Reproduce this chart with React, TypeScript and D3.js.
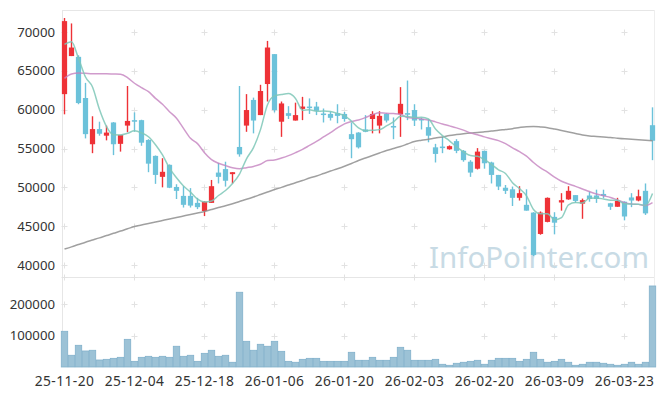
import React, { useEffect } from "react";
import * as d3 from "d3";

const W = 665;
const H = 396;

const opens = [62000, 66900, 66800, 61500, 55550, 57500, 56650, 58350, 55600, 57950, 58650, 58650, 56100, 54050, 51350, 52900, 50050, 48900, 48900, 48000, 46950, 48000, 51900, 52350, 51700, 55200, 57950, 61250, 59300, 63300, 67150, 58450, 59550, 58600, 60100, 60400, 60400, 59500, 59450, 59550, 59450, 56850, 57050, 57450, 58800, 57950, 59450, 57900, 59400, 59550, 59950, 58800, 57750, 55150, 55250, 54900, 55950, 54700, 53300, 52400, 54700, 53200, 51600, 49950, 49750, 48650, 47750, 46750, 44000, 45550, 46200, 48050, 48450, 49000, 47900, 48950, 48950, 49150, 47950, 47500, 48150, 48700, 48300, 49550, 58000];
const highs = [71800, 71100, 67000, 63450, 59150, 58450, 57950, 58400, 56750, 63050, 59650, 58700, 56200, 54100, 53750, 52950, 50400, 50150, 49900, 48650, 48200, 50950, 53150, 53300, 51950, 63050, 62000, 61550, 63200, 68850, 67150, 61050, 60450, 60900, 61650, 61450, 61000, 60150, 59750, 60700, 59700, 58350, 57100, 59300, 59800, 59800, 59550, 59000, 62900, 63750, 60700, 58950, 58800, 55600, 56500, 55400, 56200, 54800, 53500, 55050, 54700, 53300, 51600, 50300, 50100, 50150, 49750, 46800, 46900, 48700, 46800, 49250, 50150, 49000, 48550, 49450, 49700, 49700, 48000, 48650, 48200, 49250, 49700, 50500, 60300];
const lows = [59400, 66900, 60700, 56300, 54400, 56650, 56050, 54150, 54600, 57100, 57150, 55350, 51950, 50450, 50000, 49900, 48500, 47400, 47400, 47200, 46300, 48000, 50500, 50100, 50500, 53950, 57150, 56950, 59300, 61050, 59650, 56500, 58800, 58600, 58650, 59450, 59300, 58350, 58600, 58250, 58450, 53750, 55000, 57100, 56950, 56950, 58350, 56200, 56500, 58650, 57900, 57450, 55800, 53200, 54400, 54850, 54400, 53300, 51350, 52300, 52400, 50500, 49650, 49150, 47600, 48300, 47000, 41150, 43900, 45500, 43950, 47000, 48400, 48000, 45950, 48150, 48000, 48600, 47100, 47500, 45750, 47450, 48200, 46450, 53500];
const closes = [71400, 68000, 60850, 56850, 57500, 56900, 57050, 55550, 56750, 58550, 58450, 55750, 53050, 51600, 52000, 49950, 49550, 47750, 47650, 47450, 48150, 50150, 51350, 50850, 51950, 54250, 59950, 58600, 62400, 68000, 59950, 60800, 59200, 59300, 60400, 60200, 59850, 59400, 58950, 59200, 58800, 56200, 55150, 57150, 59450, 59200, 58600, 57700, 60750, 59350, 58600, 58650, 56650, 54300, 55050, 55300, 54700, 53500, 51900, 54600, 53100, 51600, 50100, 49550, 48650, 49250, 47000, 41300, 46750, 48650, 45450, 48350, 49550, 48250, 48350, 48500, 48500, 48900, 47500, 48250, 46250, 48300, 48850, 46650, 56000];
const volumes = [113700, 37300, 69100, 51000, 53200, 22300, 24400, 27600, 30800, 88100, 18000, 30800, 34000, 30800, 34000, 30800, 66000, 34000, 37300, 18000, 43500, 53200, 34000, 37300, 15000, 238000, 81800, 53200, 72300, 66000, 81800, 49900, 18000, 15000, 24400, 27600, 27600, 18000, 18000, 18000, 18000, 46800, 21300, 21300, 30800, 21300, 21300, 30800, 62700, 53200, 21300, 21300, 21300, 24400, 8600, 5400, 11800, 15000, 18000, 21300, 8600, 21300, 27600, 27600, 27600, 18000, 24400, 46800, 24400, 15000, 18000, 24400, 15000, 5400, 8600, 15000, 15000, 11800, 8600, 5400, 8600, 15000, 8600, 15000, 258000];

// moving-average values before enough closes are visible
const ma5Head = [68400, 68750, 66600, 64200];
const ma20Head = [64040, 64590, 64720, 64680, 64630, 64630, 64630, 64590, 64550, 64120, 63400, 62830, 62310, 61460, 60690, 59740, 58890, 57600, 56310];
const ma60 = [42060, 42340, 42640, 42940, 43220, 43500, 43800, 44080, 44380, 44660, 44960, 45150, 45340, 45540, 45730, 45920, 46120, 46310, 46500, 46700, 46890, 47150, 47400, 47620, 47890, 48180, 48460, 48760, 49080, 49400, 49720, 50000, 50300, 50600, 50880, 51200, 51460, 51780, 52100, 52400, 52720, 53070, 53460, 53780, 54100, 54420, 54740, 55000, 55260, 55580, 55900, 56060, 56200, 56350, 56480, 56670, 56800, 56910, 57000, 57060, 57150, 57250, 57340, 57450, 57550, 57700, 57810, 57830, 57770, 57680, 57510, 57320, 57120, 56930, 56740, 56610, 56550, 56480, 56420, 56330, 56250, 56190, 56120, 56060, 56000];

const tickIdx = [0, 10, 20, 30, 40, 50, 60, 70, 80];
const tickLabels = ["25-11-20", "25-12-04", "25-12-18", "26-01-06", "26-01-20", "26-02-03", "26-02-20", "26-03-09", "26-03-23"];
const priceTicks = [40000, 45000, 50000, 55000, 60000, 65000, 70000];
const volTicks = [100000, 200000];

function movingAvg(n: number, head: number[]) {
  return closes.map((_, i) => {
    if (i < n - 1) return head[i];
    return d3.mean(closes.slice(i - n + 1, i + 1)) as number;
  });
}

export default function App() {
  useEffect(() => {
    document.body.style.margin = "0";
  }, []);

  const L = 61, R = 656;
  const pTop = 10, pBot = 278, vTop = 277, vBot = 367;
  const idx = d3.range(closes.length);
  const x = d3.scaleBand<number>().domain(idx).range([L, R]).paddingInner(0.25).paddingOuter(0.125);
  const xc = (i: number) => (x(i) as number) + x.bandwidth() / 2;
  const xv = d3.scaleBand<number>().domain(idx).range([L, R]).paddingInner(0.08).paddingOuter(0.04);
  const y = d3.scaleLinear().domain([38330, 72830]).range([pBot, pTop]);
  const yv = d3.scaleLinear().domain([0, 286600]).range([vBot, vTop]);

  const ma5 = movingAvg(5, ma5Head);
  const ma20 = movingAvg(20, ma20Head);
  const line = d3.line<number>().x((_, i) => xc(i)).y((d) => y(d)).curve(d3.curveMonotoneX);

  const red = "#ee3237";
  const blue = "#6cc2da";
  const font = "'Noto Sans', sans-serif";
  const gridX = tickIdx.map(xc);

  const cross = (cx: number, cy: number, k: string) => (
    <g key={k} stroke="#e2e2e2" strokeWidth={1}>
      <line x1={cx - 3} x2={cx + 3} y1={cy} y2={cy} />
      <line x1={cx} x2={cx} y1={cy - 3} y2={cy + 3} />
    </g>
  );

  return (
    <svg width={W} height={H} style={{ display: "block", background: "#fff" }}>
      {/* frame */}
      <line x1={L + 1} x2={R - 1} y1={pTop + 0.5} y2={pTop + 0.5} stroke="#e6e6e6" />
      <line x1={L + 1} x2={R - 1} y1={vTop + 0.5} y2={vTop + 0.5} stroke="#e6e6e6" />
      <line x1={L + 1.5} x2={L + 1.5} y1={pTop} y2={vBot} stroke="#e6e6e6" />
      <line x1={R - 1.5} x2={R - 1.5} y1={pTop} y2={vBot} stroke="#eeeeee" />

      {/* grid crosses */}
      {priceTicks.map((t) => gridX.map((gx, j) => cross(gx, Math.round(y(t)) + 0.5, `p${t}-${j}`)))}
      {volTicks.map((t) => gridX.map((gx, j) => cross(gx, Math.round(yv(t)) + 0.5, `v${t}-${j}`)))}
      {gridX.map((gx, j) => cross(gx, vTop + 0.5, `s${j}`))}

      {/* watermark */}
      <text x={429} y={268} fontFamily={font} fontSize={29.5} fill="#c8dbe5">InfoPointer.com</text>

      {/* volume bars */}
      {volumes.map((v, i) => (
        <rect key={`v${i}`} x={xv(i)} y={yv(v)} width={xv.bandwidth()} height={vBot - yv(v)}
          fill="#9cc2d6" stroke="#82b1cb" strokeWidth={0.8} />
      ))}

      {/* candles */}
      {closes.map((c, i) => {
        const o = opens[i];
        const up = c >= o;
        const col = up ? red : blue;
        const top = y(Math.max(o, c));
        const bot = y(Math.min(o, c));
        return (
          <g key={`c${i}`}>
            <line x1={xc(i)} x2={xc(i)} y1={y(highs[i])} y2={y(lows[i])} stroke={col} strokeWidth={1.4} />
            <rect x={x(i)} y={top} width={x.bandwidth()} height={Math.max(1.5, bot - top)} fill={col} />
          </g>
        );
      })}

      {/* moving averages */}
      <path d={line(ma60) || ""} fill="none" stroke="#8f8f8f" strokeWidth={1.5} opacity={0.85} />
      <path d={line(ma20) || ""} fill="none" stroke="#c482bf" strokeWidth={1.5} opacity={0.8} />
      <path d={line(ma5) || ""} fill="none" stroke="#7ec7b7" strokeWidth={1.5} opacity={0.85} />

      {/* y axis labels */}
      {priceTicks.map((t) => (
        <text key={`pt${t}`} x={55} y={y(t)} dy="0.35em" textAnchor="end" fontFamily={font} fontSize={13.2} fill="#333">{t}</text>
      ))}
      {volTicks.map((t) => (
        <text key={`vt${t}`} x={55} y={yv(t)} dy="0.35em" textAnchor="end" fontFamily={font} fontSize={13.2} fill="#333">{t}</text>
      ))}

      {/* x axis labels */}
      {tickIdx.map((ti, j) => (
        <text key={`xt${ti}`} x={xc(ti)} y={386} textAnchor="middle" fontFamily={font} fontSize={13.8} letterSpacing={0.4} fill="#333">{tickLabels[j]}</text>
      ))}
    </svg>
  );
}
